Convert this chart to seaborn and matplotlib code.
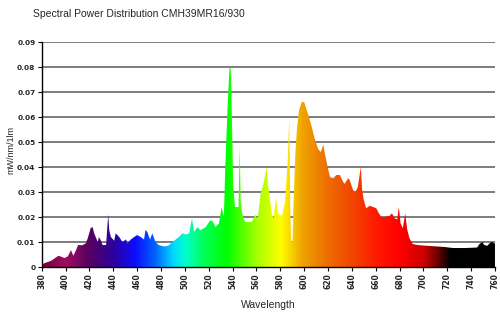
import numpy as np
import matplotlib
matplotlib.use("Agg")
import matplotlib.pyplot as plt
from matplotlib.patches import PathPatch
import seaborn as sns

title = "Spectral Power Distribution CMH39MR16/930"
x_label = "Wavelength"
y_label = "mW/nm/1lm"

wavelength = [380, 382, 385, 388, 391, 394, 396, 399, 402, 404.5, 406.5, 409, 410.5, 414, 417,
              418.6, 421, 422.7, 424, 427, 428, 429.7, 431, 434, 435, 435.8, 436.6, 438, 440.8,
              442, 445, 447.7, 450.5, 452, 454.7, 457.5, 460, 463, 465.8, 467, 468.6, 470.8,
              472.7, 475.5, 478, 482.5, 486, 489.7, 495, 498, 500.8, 503.6, 506, 507.7, 510.5,
              513, 517.5, 521, 523, 525.8, 528.6, 530.8, 532.7, 534, 535.5, 536.5, 537.5, 538.5,
              539, 539.7, 540.5, 542, 545, 546, 546.8, 548, 550.6, 556, 559, 561, 563.6, 566,
              568.6, 570, 573, 574.4, 576.4, 578, 581.4, 584, 586.4, 587.5, 588.3, 589, 590.3,
              591, 592.5, 593.9, 595.8, 598, 600, 602, 604, 606.4, 609, 612, 614, 616, 617.5,
              619.7, 621.7, 624.4, 627, 630, 632.7, 634, 636.9, 638, 641, 643, 645, 647.5, 648.6,
              650, 652, 655, 657.8, 660.5, 662, 664.7, 667.5, 671.7, 673.6, 675.8, 678, 679.4,
              680.8, 682.8, 684.7, 686.4, 688.3, 691, 695, 700, 706, 712, 718, 721, 725, 730,
              735, 740, 745, 747, 749.4, 751, 753.6, 755.5, 757.8, 760]
power = [0.0003, 0.0015, 0.002, 0.0025, 0.0035, 0.0045, 0.0042, 0.0036, 0.0043, 0.0068, 0.0045,
         0.007, 0.0088, 0.0087, 0.0095, 0.0115, 0.0155, 0.016, 0.0135, 0.010, 0.012, 0.0105,
         0.0088, 0.0088, 0.016, 0.021, 0.0148, 0.012, 0.0105, 0.0135, 0.012, 0.010, 0.011,
         0.0095, 0.011, 0.012, 0.0128, 0.012, 0.011, 0.0148, 0.014, 0.011, 0.0135, 0.010,
         0.0088, 0.0082, 0.0085, 0.010, 0.012, 0.0135, 0.013, 0.0135, 0.0195, 0.014, 0.016,
         0.0147, 0.016, 0.0185, 0.0185, 0.016, 0.0175, 0.024, 0.020, 0.0415, 0.060, 0.071,
         0.080, 0.079, 0.0695, 0.0535, 0.0335, 0.024, 0.024, 0.048, 0.027, 0.0215, 0.018,
         0.018, 0.021, 0.019, 0.0295, 0.0335, 0.040, 0.032, 0.021, 0.0195, 0.028, 0.0215,
         0.0205, 0.026, 0.044, 0.060, 0.0255, 0.0108, 0.010, 0.024, 0.044, 0.055, 0.063,
         0.066, 0.066, 0.063, 0.060, 0.056, 0.051, 0.047, 0.046, 0.049, 0.045, 0.040, 0.036,
         0.0355, 0.0368, 0.0368, 0.034, 0.0333, 0.0355, 0.035, 0.0308, 0.030, 0.032, 0.040,
         0.031, 0.0268, 0.0235, 0.0245, 0.024, 0.0235, 0.022, 0.020, 0.020, 0.0205, 0.0215,
         0.0195, 0.019, 0.024, 0.0175, 0.0155, 0.0215, 0.015, 0.0115, 0.0092, 0.0088, 0.0086,
         0.0084, 0.0082, 0.008, 0.0078, 0.0076, 0.0076, 0.0076, 0.0077, 0.0078, 0.0092, 0.010,
         0.0088, 0.0085, 0.0095, 0.010, 0.0093]

x_ticks = list(range(380, 761, 20))
y_ticks = [0, 0.01, 0.02, 0.03, 0.04, 0.05, 0.06, 0.07, 0.08, 0.09]
y_tick_labels = ["0", "0.01", "0.02", "0.03", "0.04", "0.05", "0.06", "0.07", "0.08", "0.09"]

# colour stops for the spectral gradient (style only)
stop_nm = [380, 400, 420, 440, 458, 475, 490, 500, 515, 535, 560, 580, 598, 620, 640, 660, 680, 700, 712, 722, 760]
stop_rgb = [(0.45, 0.0, 0.25), (0.62, 0.05, 0.38), (0.33, 0.0, 0.38), (0.18, 0.0, 0.62),
            (0.05, 0.05, 1.0), (0.0, 0.4, 1.0), (0.0, 0.85, 1.0), (0.0, 1.0, 0.8),
            (0.0, 1.0, 0.35), (0.0, 1.0, 0.0), (0.65, 1.0, 0.0), (1.0, 1.0, 0.0),
            (0.94, 0.64, 0.0), (0.93, 0.42, 0.0), (0.95, 0.27, 0.0), (1.0, 0.1, 0.0),
            (1.0, 0.0, 0.0), (0.8, 0.0, 0.0), (0.4, 0.0, 0.0), (0.0, 0.0, 0.0), (0.0, 0.0, 0.0)]

sns.set_style("white")
plt.rcParams["font.family"] = ["Liberation Sans", "DejaVu Sans"]

fig, ax = plt.subplots(figsize=(5, 3.16), dpi=100)
fig.subplots_adjust(left=0.0834, right=0.99, bottom=0.155, top=0.867)

sns.lineplot(x=wavelength, y=power, ax=ax, linewidth=0, estimator=None)

poly = ax.fill_between(wavelength, power, 0, facecolor="none", edgecolor="none")
path = poly.get_paths()[0]
patch = PathPatch(path, transform=ax.transData, facecolor="none", edgecolor="none")
ax.add_patch(patch)

grid_nm = np.linspace(380, 760, 800)
sn = np.array(stop_nm, dtype=float)
sr = np.array(stop_rgb)
cols = np.stack([np.interp(grid_nm, sn, sr[:, k]) for k in range(3)], axis=-1)
img = np.repeat(cols[np.newaxis, :, :], 2, axis=0)
im = ax.imshow(img, extent=(380, 760, 0, 0.09), aspect="auto", origin="lower",
               zorder=2, interpolation="bilinear")
im.set_clip_path(patch)

ax.set_xlim(380, 760)
ax.set_ylim(0, 0.09)
ax.set_xticks(x_ticks)
ax.set_xticklabels([str(t) for t in x_ticks], rotation=90, fontsize=5.5,
                   family="DejaVu Sans", fontweight="bold")
ax.set_yticks(y_ticks)
ax.set_yticklabels(y_tick_labels, fontsize=5.3, family="DejaVu Sans", fontweight="bold")

ax.set_axisbelow(True)
ax.yaxis.grid(True, color="#666666", linewidth=1.2)
ax.xaxis.grid(False)

for s in ["top", "right"]:
    ax.spines[s].set_visible(False)
for s in ["left", "bottom"]:
    ax.spines[s].set_color("black")
    ax.spines[s].set_linewidth(1.0)
    ax.spines[s].set_zorder(5)

ax.tick_params(axis="both", which="both", direction="out", length=3, width=0.8,
               color="black", pad=1.5, bottom=True, left=True)

ax.set_xlabel(x_label, fontsize=7.5, labelpad=8)
ax.set_ylabel("")
fig.text(0.021, 0.525, y_label, fontsize=6.5, rotation=90, ha="center", va="center")
fig.text(0.066, 0.955, title, fontsize=7.5, ha="left", va="center")

fig.savefig("out.png", dpi=100)
